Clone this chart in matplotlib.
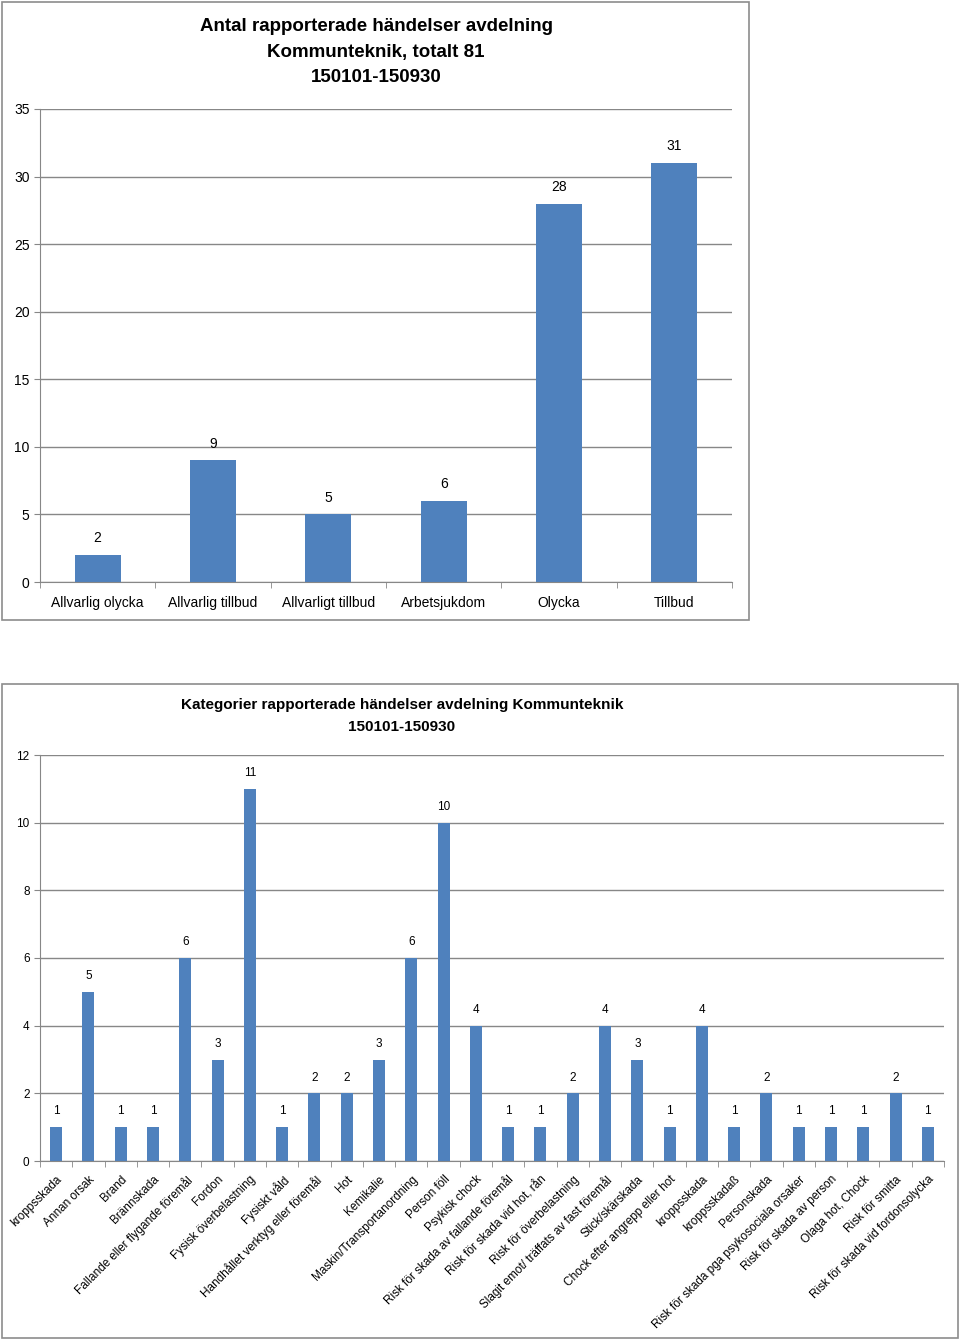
import numpy as np
import matplotlib.pyplot as plt
from matplotlib.patches import Rectangle

# top chart data
typ_labels = ['Allvarlig olycka', 'Allvarlig tillbud', 'Allvarligt tillbud',
              'Arbetsjukdom', 'Olycka', 'Tillbud']
typ_counts = [2, 9, 5, 6, 28, 31]

# bottom chart data
kat_labels = ['kroppsskada', 'Annan orsak', 'Brand', 'Brännskada',
              'Fallande eller flygande föremål', 'Fordon',
              'Fysisk överbelastning', 'Fysiskt våld',
              'Handhållet verktyg eller föremål', 'Hot', 'Kemikalie',
              'Maskin/Transportanordning', 'Person föll', 'Psykisk chock',
              'Risk för skada av fallande föremål',
              'Risk för skada vid hot, rån', 'Risk för överbelastning',
              'Slagit emot/ träffats av fast föremål', 'Stick/skärskada',
              'Chock efter angrepp eller hot', 'kroppsskada', 'kroppsskadaß',
              'Personskada', 'Risk för skada pga psykosociala orsaker',
              'Risk för skada av person', 'Olaga hot, Chock',
              'Risk för smitta', 'Risk för skada vid fordonsolycka']
kat_counts = [1, 5, 1, 1, 6, 3, 11, 1, 2, 2, 3, 6, 10, 4, 1, 1, 2, 4, 3,
              1, 4, 1, 2, 1, 1, 1, 2, 1]

plt.rcParams['font.family'] = ['Liberation Sans', 'DejaVu Sans']
BAR = '#4F81BD'
GRID = '#878787'
W, H = 960, 1340


def fig_rect(x0, y0, x1, y1):
    # pixel box -> figure fraction [left, bottom, width, height]
    return [x0 / W, 1 - y1 / H, (x1 - x0) / W, (y1 - y0) / H]


def style_axes(ax, ymax, step, n):
    ax.set_ylim(0, ymax)
    ax.set_xlim(-0.5, n - 0.5)
    ax.set_yticks(np.arange(0, ymax + step, step))
    ax.yaxis.grid(True, color=GRID, linewidth=1)
    ax.set_axisbelow(True)
    for s in ['top', 'right']:
        ax.spines[s].set_visible(False)
    for s in ['left', 'bottom']:
        ax.spines[s].set_color(GRID)
    ax.set_xticks(np.arange(n + 1) - 0.5, minor=True)
    ax.tick_params(axis='x', which='major', length=0)
    ax.tick_params(axis='x', which='minor', length=4, color=GRID, direction='out')
    ax.tick_params(axis='y', length=4, color=GRID, labelsize=10)


fig = plt.figure(figsize=(W / 100, H / 100), dpi=100)

# chart frames
for x0, y0, x1, y1 in [(2, 2, 749, 620), (2, 684, 958, 1338)]:
    l, b, w, h = fig_rect(x0, y0, x1, y1)
    fig.patches.append(Rectangle((l, b), w, h, transform=fig.transFigure,
                                 fill=False, edgecolor='#8c8c8c', linewidth=1.2))

# top chart
ax1 = fig.add_axes(fig_rect(40, 109, 732, 582))
x1 = np.arange(len(typ_labels))
bars = ax1.bar(x1, typ_counts, width=0.4, color=BAR)
style_axes(ax1, 35, 5, len(typ_labels))
ax1.set_xticks(x1)
ax1.set_xticklabels(typ_labels, fontsize=10)
ax1.tick_params(axis='x', which='major', pad=10)
ax1.bar_label(bars, padding=7, fontsize=10)
fig.text(376 / W, 1 - 52 / H,
         'Antal rapporterade händelser avdelning\nKommunteknik, totalt 81\n150101-150930',
         ha='center', va='center', fontsize=13.5, fontweight='bold', linespacing=1.65)

# bottom chart
ax2 = fig.add_axes(fig_rect(40, 755, 944, 1161))
x2 = np.arange(len(kat_labels))
bars = ax2.bar(x2, kat_counts, width=0.37, color=BAR)
style_axes(ax2, 12, 2, len(kat_labels))
ax2.tick_params(axis='y', labelsize=8.5)
ax2.set_xticks(x2)
ax2.set_xticklabels(kat_labels, rotation=45, ha='right', rotation_mode='anchor',
                    fontsize=8.5)
ax2.tick_params(axis='x', which='major', pad=9)
ax2.bar_label(bars, padding=7, fontsize=8.5)
fig.text(402 / W, 1 - 716 / H,
         'Kategorier rapporterade händelser avdelning Kommunteknik\n150101-150930',
         ha='center', va='center', fontsize=11, fontweight='bold', linespacing=1.8)

fig.savefig('out.png', dpi=100)
plt.close(fig)
